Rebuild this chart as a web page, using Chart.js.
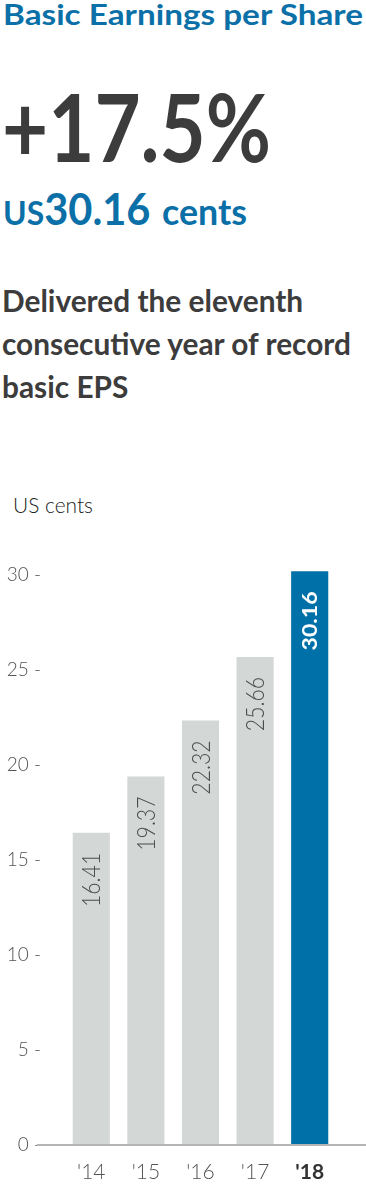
<!DOCTYPE html>
<html>
<head>
<meta charset="utf-8">
<script src="https://cdn.jsdelivr.net/npm/chart.js@4.4.1/dist/chart.umd.min.js"></script>
<style>
  html, body { margin: 0; padding: 0; background: #fff; }
  body { width: 366px; height: 1200px; position: relative; overflow: hidden; font-family: Lato, 'Open Sans', sans-serif; }
  .t { position: absolute; left: 0; top: 0; white-space: nowrap; line-height: 1; transform-origin: 0 0; }
  .bl { display: inline-block; width: 0; height: 0; vertical-align: baseline; }
  #title { font-size: 28px; font-weight: 700; color: #0b70a7; }
  #growth { font-size: 93px; font-weight: 700; color: #3c3c3c; }
  #eps { font-weight: 700; color: #0b70a7; }
  .sub { font-size: 31px; font-weight: 700; color: #3c3c3c; }
  #unit { font-size: 22px; font-weight: 300; color: #222; }
  #wrap { position: absolute; left: 0; top: 540px; width: 366px; height: 660px; }
</style>
</head>
<body>
<div class="t" id="title">Basic Earnings per Share</div>
<div class="t" id="growth">+17.5%</div>
<div class="t" id="eps"><span style="font-size:33px">US</span><span style="font-size:43px">30.16</span><span style="font-size:37px;margin-left:12px">cents</span></div>
<div class="t sub" id="sub1">Delivered the eleventh</div>
<div class="t sub" id="sub2">consecutive year of record</div>
<div class="t sub" id="sub3">basic EPS</div>
<div class="t" id="unit">US cents</div>
<div id="wrap"><canvas id="epsChart"></canvas></div>

<script>
const years = ["'14", "'15", "'16", "'17", "'18"]
const eps = [16.41, 19.37, 22.32, 25.66, 30.16]
const yTicks = [0, 5, 10, 15, 20, 25, 30]
const highlight = 4

const blue = '#0070a8'
const grey = '#d3d7d6'

// put a text block on a baseline and stretch it to the width it has in the picture
function place(id, left, baseline, width, scale) {
    const el = document.getElementById(id)
    const mark = document.createElement('span')
    mark.className = 'bl'
    el.appendChild(mark)
    el.style.left = left + 'px'
    el.style.top = (baseline - mark.offsetTop) + 'px'
    const s = scale || width / el.getBoundingClientRect().width
    el.style.transform = 'scaleX(' + s + ')'
    return s
}

function layoutText() {
    place('title', 3, 25, 360)
    place('growth', 2, 162, 269)
    place('eps', 3, 225, 244)
    const s = place('sub2', 2, 355, 349)
    place('sub1', 2, 312, 0, s)
    place('sub3', 2, 398, 0, s)
    place('unit', 13, 513, 80)
}

const barLabels = {
    id: 'barLabels',
    afterDatasetsDraw(chart) {
        const { ctx } = chart
        chart.getDatasetMeta(0).data.forEach((bar, i) => {
            const hi = i === highlight
            const size = hi ? 21 : 25
            ctx.save()
            ctx.translate(bar.x, bar.y + 20)
            ctx.rotate(-Math.PI / 2)
            ctx.scale(hi ? 1.1 : 0.85, 1)
            ctx.font = (hi ? '700 ' : '300 ') + size + 'px Lato'
            ctx.fillStyle = hi ? '#ffffff' : '#4d4d4d'
            ctx.textAlign = 'right'
            ctx.textBaseline = 'alphabetic'
            ctx.fillText(eps[i].toFixed(2), 0, size * 0.36)
            ctx.restore()
        })
    }
}

const baseLine = {
    id: 'baseLine',
    afterDraw(chart) {
        const { ctx } = chart
        const y = Math.round(chart.scales.y.getPixelForValue(0))
        ctx.save()
        ctx.strokeStyle = '#b4b4b4'
        ctx.lineWidth = 2
        ctx.beginPath()
        ctx.moveTo(37, y)
        ctx.lineTo(chart.width, y)
        ctx.stroke()
        ctx.restore()
    }
}

function renderChart() {
    new Chart(document.getElementById('epsChart'), {
        type: 'bar',
        data: {
            labels: years,
            datasets: [{
                data: eps,
                backgroundColor: years.map((_, i) => i === highlight ? blue : grey),
                borderWidth: 0,
                barPercentage: 0.68,
                categoryPercentage: 1,
                clip: false
            }]
        },
        options: {
            responsive: true,
            maintainAspectRatio: false,
            animation: false,
            events: [],
            layout: { padding: { top: 26, right: 29, bottom: 0, left: 0 } },
            plugins: { legend: { display: false }, tooltip: { enabled: false } },
            scales: {
                x: {
                    grid: { display: false, drawTicks: false },
                    border: { display: false },
                    ticks: {
                        padding: 15,
                        maxRotation: 0,
                        color: c => c.index === highlight ? '#333333' : '#555555',
                        font: c => ({ family: 'Lato', size: 21, weight: c.index === highlight ? 700 : 300 })
                    }
                },
                y: {
                    min: 0,
                    max: 30,
                    grid: { display: false, drawTicks: false },
                    border: { display: false },
                    afterBuildTicks: s => { s.ticks = yTicks.map(v => ({ value: v })) },
                    afterFit: s => { s.width = 64 },
                    ticks: {
                        padding: 23,
                        color: '#555555',
                        font: { family: 'Lato', size: 19, weight: 300 },
                        callback: v => v + ' -'
                    }
                }
            }
        },
        plugins: [barLabels, baseLine]
    })
}

Promise.all([
    document.fonts.load('700 28px Lato'),
    document.fonts.load('300 19px Lato')
]).catch(() => {}).then(() => {
    layoutText()
    renderChart()
})
</script>
</body>
</html>
